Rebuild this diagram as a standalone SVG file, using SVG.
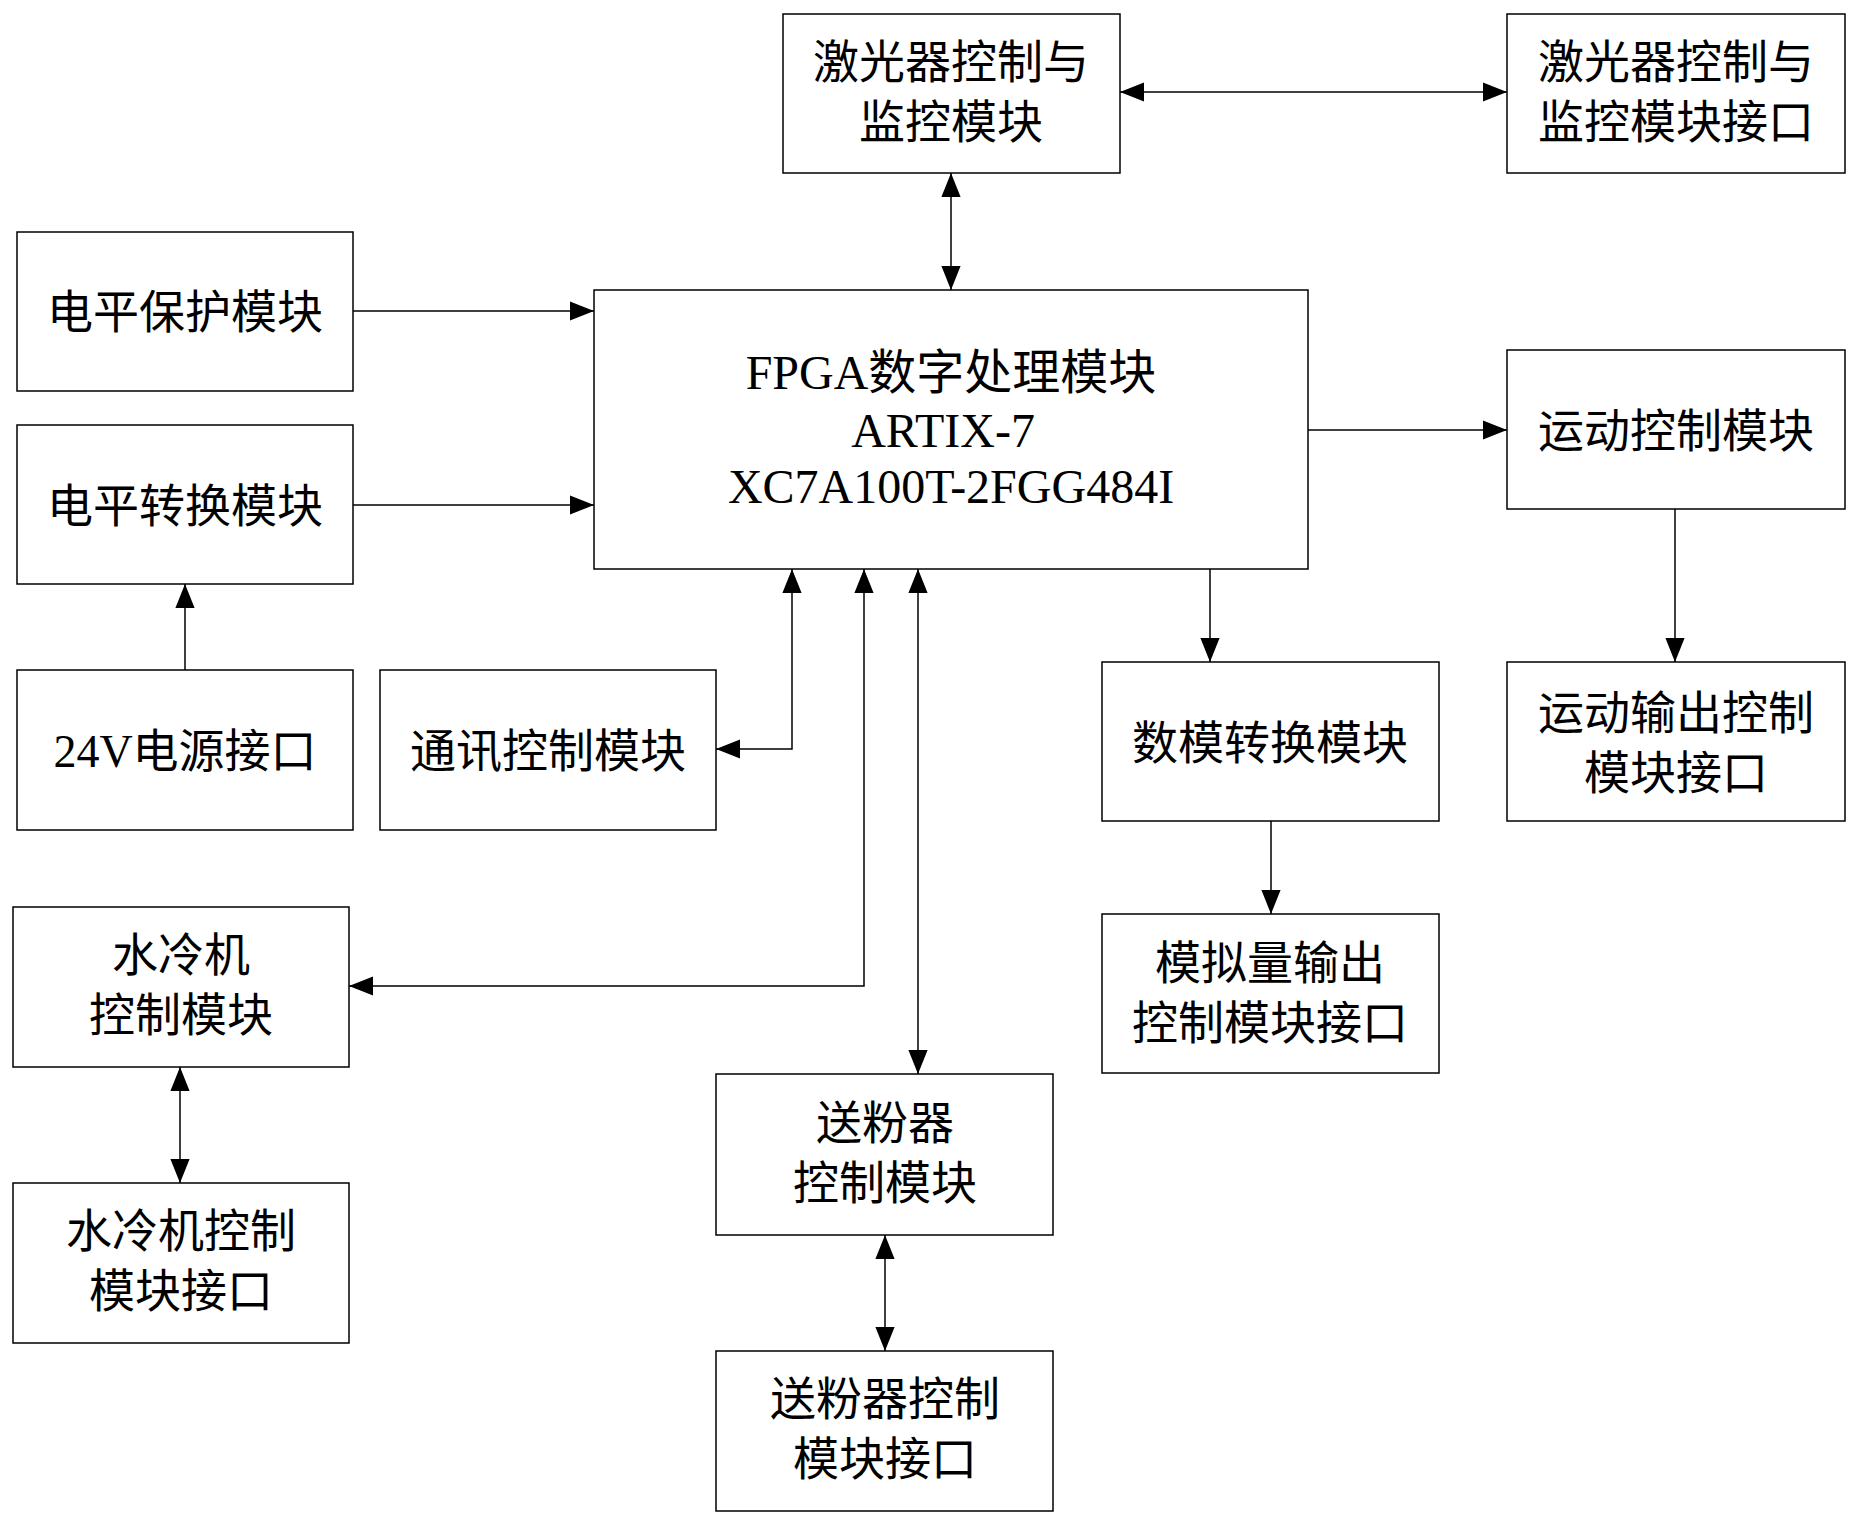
<svg xmlns="http://www.w3.org/2000/svg" width="1857" height="1532" viewBox="0 0 1857 1532">
<defs>
<marker id="a" viewBox="0 0 10 10" refX="10" refY="5" markerWidth="24" markerHeight="24" markerUnits="userSpaceOnUse" orient="auto-start-reverse"><path d="M0,1 L10,5 L0,9 Z" fill="#000"/></marker>
<style>
rect{fill:#fff;stroke:#000;stroke-width:1.5}
text{font-family:"Liberation Serif","Noto Sans CJK SC",serif;font-size:46px;text-anchor:middle;fill:#000}
.f{font-size:48px}
.c path{fill:none;stroke:#000;stroke-width:1.5}
</style>
</defs>
<rect x="0" y="0" width="1857" height="1532" style="stroke:none"/>
<g class="c">
<path d="M951,173 V290" marker-start="url(#a)" marker-end="url(#a)"/>
<path d="M1120,92 H1507" marker-start="url(#a)" marker-end="url(#a)"/>
<path d="M353,311 H594" marker-end="url(#a)"/>
<path d="M353,505 H594" marker-end="url(#a)"/>
<path d="M185,670 V584" marker-end="url(#a)"/>
<path d="M1308,430 H1507" marker-end="url(#a)"/>
<path d="M1675,509 V662" marker-end="url(#a)"/>
<path d="M1210,569 V662" marker-end="url(#a)"/>
<path d="M1271,821 V914" marker-end="url(#a)"/>
<path d="M716,749 H792 V569" marker-start="url(#a)" marker-end="url(#a)"/>
<path d="M349,986 H864 V569" marker-start="url(#a)" marker-end="url(#a)"/>
<path d="M918,569 V1074" marker-start="url(#a)" marker-end="url(#a)"/>
<path d="M180,1067 V1183" marker-start="url(#a)" marker-end="url(#a)"/>
<path d="M885,1235 V1351" marker-start="url(#a)" marker-end="url(#a)"/>
</g>
<g id="laser"><rect x="783" y="14" width="337" height="159"/><text x="951" y="78">激光器控制与</text><text x="951" y="138">监控模块</text></g>
<g id="laserIf"><rect x="1507" y="14" width="338" height="159"/><text x="1676" y="78">激光器控制与</text><text x="1676" y="138">监控模块接口</text></g>
<g id="prot"><rect x="17" y="232" width="336" height="159"/><text x="185" y="328">电平保护模块</text></g>
<g id="conv"><rect x="17" y="425" width="336" height="159"/><text x="185" y="522">电平转换模块</text></g>
<g id="fpga"><rect x="594" y="290" width="714" height="279"/><text class="f" x="951" y="389">FPGA数字处理模块</text><text class="f" x="943" y="447">ARTIX-7</text><text class="f" x="951" y="503">XC7A100T-2FGG484I</text></g>
<g id="motion"><rect x="1507" y="350" width="338" height="159"/><text x="1676" y="447">运动控制模块</text></g>
<g id="pwr"><rect x="17" y="670" width="336" height="160"/><text x="185" y="767">24V电源接口</text></g>
<g id="comm"><rect x="380" y="670" width="336" height="160"/><text x="548" y="767">通讯控制模块</text></g>
<g id="dac"><rect x="1102" y="662" width="337" height="159"/><text x="1270" y="759">数模转换模块</text></g>
<g id="motionIf"><rect x="1507" y="662" width="338" height="159"/><text x="1676" y="729">运动输出控制</text><text x="1676" y="789">模块接口</text></g>
<g id="water"><rect x="13" y="907" width="336" height="160"/><text x="181" y="971">水冷机</text><text x="181" y="1031">控制模块</text></g>
<g id="analog"><rect x="1102" y="914" width="337" height="159"/><text x="1270" y="979">模拟量输出</text><text x="1270" y="1039">控制模块接口</text></g>
<g id="powder"><rect x="716" y="1074" width="337" height="161"/><text x="885" y="1139">送粉器</text><text x="885" y="1199">控制模块</text></g>
<g id="waterIf"><rect x="13" y="1183" width="336" height="160"/><text x="181" y="1247">水冷机控制</text><text x="181" y="1307">模块接口</text></g>
<g id="powderIf"><rect x="716" y="1351" width="337" height="160"/><text x="885" y="1415">送粉器控制</text><text x="885" y="1475">模块接口</text></g>
</svg>
